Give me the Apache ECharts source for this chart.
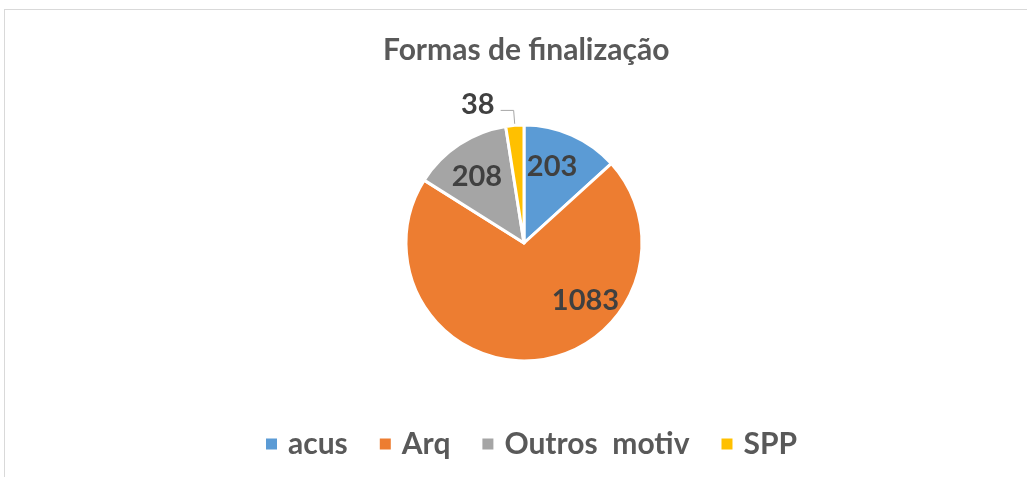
<!DOCTYPE html>
<html>
<head>
<meta charset="utf-8">
<script src="https://cdn.jsdelivr.net/npm/echarts@6/dist/echarts.min.js"></script>
<style>
  html, body { margin: 0; padding: 0; background: #fff; overflow: hidden; }
  #frame { position: absolute; left: 4px; top: 9px; width: 1100px; height: 600px; border: 1px solid #d9d9d9; }
  #chart { position: absolute; left: 0; top: 0; width: 1027px; height: 477px; }
</style>
</head>
<body>
<div id="frame"></div>
<div id="chart"></div>
<script>
// dados
const categories = ['acus', 'Arq', 'Outros  motiv', 'SPP']
const values = [203, 1083, 208, 38]
const colors = ['#5B9BD5', '#ED7D31', '#A5A5A5', '#FFC000']

// deslocamento dos rótulos (como no Excel)
const labelShift = [[3, -20], [56, -4], [-13, -15], [-3, -6]]

const font = 'Lato, "Open Sans", sans-serif'

let chartDom = document.getElementById('chart')
let myChart = echarts.init(chartDom)

let option = {
  color: colors,
  title: {
    text: 'Formas de finalização',
    left: 378,
    top: 30,
    textStyle: {
      color: '#595959',
      fontSize: 30,
      fontWeight: 'bold',
      fontFamily: font
    }
  },
  legend: {
    data: categories,
    left: 259,
    top: 424,
    icon: 'rect',
    itemWidth: 13,
    itemHeight: 13,
    itemGap: 30,
    textStyle: {
      color: '#595959',
      fontSize: 30,
      fontWeight: 'bold',
      fontFamily: font,
      padding: [0, 0, 0, 5]
    }
  },
  series: [
    {
      type: 'pie',
      center: [524, 243],
      radius: 118,
      startAngle: 90,
      clockwise: true,
      animation: false,
      itemStyle: {
        borderColor: '#fff',
        borderWidth: 3
      },
      label: {
        position: 'inside',
        formatter: '{c}',
        color: '#404040',
        fontSize: 29,
        fontWeight: 'bold',
        fontFamily: font
      },
      labelLayout: function (params) {
        let s = labelShift[params.dataIndex]
        return { dx: s[0], dy: s[1] }
      },
      data: categories.map((name, i) => {
        let item = { name: name, value: values[i] }
        if (i === 3) {
          item.label = { position: 'outside', distanceToLabelLine: 3 }
          item.labelLine = {
            show: true,
            length: 15,
            length2: 13,
            lineStyle: { color: '#a6a6a6', width: 1 }
          }
        }
        return item
      })
    }
  ]
}

window.onresize = myChart.resize
option && myChart.setOption(option)
</script>
</body>
</html>
